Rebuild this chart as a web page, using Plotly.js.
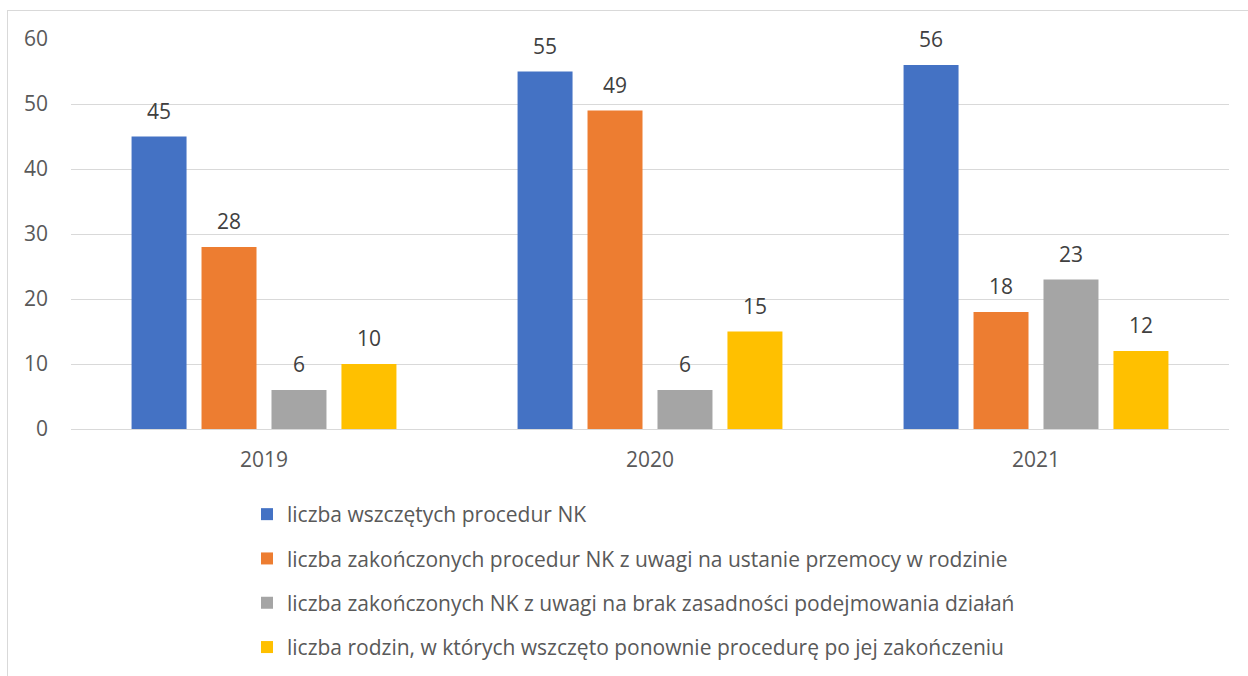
<!DOCTYPE html>
<html><head><meta charset="utf-8">
<script src="https://cdn.plot.ly/plotly-3.0.1.min.js"></script>
<style>
html,body{margin:0;padding:0;background:#fff;overflow:hidden;}
#frame{position:absolute;left:7px;top:10px;width:1300px;height:700px;border:1px solid #d9d9d9;box-sizing:border-box;}
#chart{position:absolute;left:0;top:0;width:1248px;height:676px;}
</style></head>
<body>
<div id="frame"></div>
<div id="chart"></div>
<script>
const years = ['2019', '2020', '2021'];
const seriesNames = [
  'liczba wszczętych procedur NK',
  'liczba zakończonych procedur NK z uwagi na ustanie przemocy w rodzinie',
  'liczba zakończonych NK z uwagi na brak zasadności podejmowania działań',
  'liczba rodzin, w których wszczęto ponownie procedurę po jej zakończeniu'
];
const started = [45, 55, 56];
const endedViolence = [28, 49, 18];
const endedNoGrounds = [6, 6, 23];
const restarted = [10, 15, 12];
const yTicks = [0, 10, 20, 30, 40, 50, 60];

const colors = ['#4472c4', '#ed7d31', '#a5a5a5', '#ffc000'];
const values = [started, endedViolence, endedNoGrounds, restarted];
const font = 'Open Sans, Liberation Sans, sans-serif';
const FS = 21;

const W = 1248, H = 676;
const margin = {l: 71, r: 19, t: 39, b: 247, autoexpand: false};
const bargap = 0.275;
const plotW = W - margin.l - margin.r;
const plotH = H - margin.t - margin.b;
const slot = (1 - bargap) * (plotW / years.length) / values.length;

const traces = values.map((v, i) => ({
  type: 'bar',
  x: years,
  y: v,
  name: seriesNames[i],
  legendgroup: 'g' + i,
  marker: {color: colors[i]},
  hoverinfo: 'none'
}));

const annotations = [];
values.forEach((v, i) => {
  v.forEach((val, j) => {
    annotations.push({
      x: j, y: val, xref: 'x', yref: 'y',
      text: String(val), showarrow: false,
      xanchor: 'center', yanchor: 'bottom',
      xshift: (i - (values.length - 1) / 2) * slot,
      yshift: 10,
      font: {family: font, size: FS, color: '#404040'}
    });
  });
});

const layout = {
  width: W, height: H,
  margin: margin,
  paper_bgcolor: 'rgba(0,0,0,0)',
  plot_bgcolor: 'rgba(0,0,0,0)',
  barmode: 'group',
  bargap: bargap,
  bargroupgap: 0.214,
  showlegend: true,
  annotations: annotations,
  font: {family: font, size: FS, color: '#595959'},
  xaxis: {
    type: 'category',
    range: [-0.5, years.length - 0.5],
    automargin: false,
    showgrid: false,
    showline: false,
    ticks: '',
    ticklabelstandoff: 16,
    tickfont: {family: font, size: FS, color: '#595959'}
  },
  yaxis: {
    range: [0, 60],
    automargin: false,
    tickvals: yTicks,
    showgrid: true,
    gridcolor: '#d9d9d9',
    gridwidth: 1,
    zeroline: true,
    zerolinecolor: '#d9d9d9',
    zerolinewidth: 1,
    showline: false,
    ticks: '',
    ticklabelstandoff: 22,
    tickfont: {family: font, size: FS, color: '#595959'}
  },
  legend: {
    orientation: 'v',
    x: (247 - margin.l) / plotW, xanchor: 'left',
    y: -(494 - (H - margin.b)) / plotH, yanchor: 'top',
    tracegroupgap: 14,
    itemwidth: 30,
    font: {family: font, size: FS, color: '#595959'},
    bgcolor: 'rgba(0,0,0,0)'
  }
};

Plotly.newPlot('chart', traces, layout, {displayModeBar: false, staticPlot: true});
</script>
</body></html>
